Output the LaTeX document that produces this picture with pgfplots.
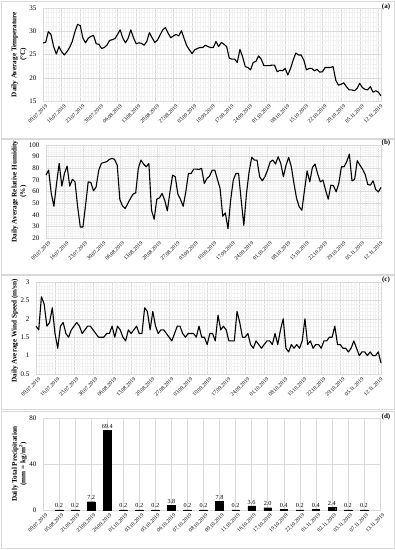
\documentclass[border=0pt]{standalone}
\usepackage{fontspec}
\setmainfont{Liberation Serif}
\usepackage{pgfplots}
\usepackage{pgfplotstable}
\pgfplotsset{compat=1.18}

\pgfplotstableread{
t
27.5
27.6
29.9
29.3
26.7
25.1
26.7
25.6
24.9
25.6
26.5
27.8
29.9
31.5
31.2
28.5
27.5
28.5
28.9
29.1
27.3
27.2
26.3
26.5
27.0
28.0
28.2
28.4
29.3
30.3
28.5
27.5
28.5
30.3
28.6
27.3
27.5
27.4
27.0
27.8
29.7
28.6
27.6
28.1
29.2
30.3
30.8
29.6
28.6
29.0
29.3
29.0
30.1
28.5
26.9
26.0
25.2
26.0
26.3
26.5
26.5
27.0
26.7
26.5
26.5
27.8
26.7
27.6
27.2
26.7
24.2
24.0
24.0
23.3
26.1
24.5
22.4
22.2
21.7
23.3
23.5
24.7
24.0
22.6
22.6
22.6
22.7
22.7
21.3
21.6
21.5
22.0
20.6
22.0
23.8
25.3
24.9
24.9
23.8
21.7
22.0
22.0
21.5
21.8
21.2
21.3
22.2
22.2
22.2
22.4
19.5
18.4
18.6
18.9
18.1
17.4
17.4
17.2
17.7
18.8
17.9
17.5
17.4
18.1
16.9
17.2
16.9
16.1
}\temptable

\pgfplotstableread{
h
74.1
78.4
58.3
47.3
66.9
84.2
64.6
75.5
81.9
64.6
70.4
68.3
46.8
29.5
29.5
48.2
68.3
67.8
60.6
64.0
78.4
84.2
85.0
85.6
87.6
88.5
87.6
82.7
53.1
47.6
45.3
49.6
54.0
57.7
58.8
79.9
87.0
83.6
81.3
84.2
43.9
36.1
53.4
54.5
58.3
52.5
43.3
59.7
74.1
72.7
57.7
53.1
47.3
59.7
75.5
75.5
79.3
79.3
79.0
79.9
66.9
71.2
73.2
78.4
78.4
70.4
62.6
38.7
41.6
28.0
52.5
69.8
75.5
75.5
52.5
30.9
58.3
77.0
89.4
87.0
87.0
72.7
69.2
72.7
78.4
85.6
87.0
83.6
89.9
84.2
72.7
82.7
89.4
81.3
66.9
54.0
46.8
43.9
61.1
77.8
68.3
80.7
83.6
75.0
68.3
69.8
61.1
53.4
65.5
64.9
59.7
66.9
81.3
81.3
85.6
92.2
69.2
70.4
86.5
82.7
79.3
74.7
66.0
65.5
69.2
61.7
59.7
63.5
}\humtable

\pgfplotstableread{
w
1.8
1.7
2.6
2.4
1.8
1.9
2.3
1.6
1.2
1.8
1.9
1.6
1.5
1.7
1.8
1.9
1.8
1.6
1.7
1.8
1.8
1.7
1.6
1.5
1.5
1.5
1.6
1.6
1.8
1.5
1.8
1.7
1.5
1.4
1.7
1.6
1.7
1.8
1.6
1.6
2.3
2.2
1.7
2.2
1.8
1.6
1.7
1.7
1.6
1.5
1.4
1.6
1.8
1.8
1.6
1.5
1.6
1.6
1.6
1.5
1.8
1.5
1.5
1.3
1.6
1.6
1.4
2.1
1.7
1.8
1.7
1.4
1.4
1.4
2.2
1.9
1.5
1.5
1.6
1.3
1.2
1.4
1.3
1.2
1.3
1.4
1.4
1.3
1.6
1.3
1.7
2.0
1.2
1.1
1.3
1.2
1.3
1.2
1.4
2.0
1.3
1.4
1.2
1.3
1.3
1.2
1.4
1.4
1.5
1.5
1.8
1.3
1.3
1.2
1.2
1.1
1.2
1.4
1.2
1.0
1.1
1.1
1.0
1.1
1.0
1.0
1.1
0.8
}\windtable

\pgfplotsset{
 panel/.style={
   scale only axis, anchor=south west,
   axis line style={draw=black!14},
   grid=both,
   major grid style={draw=black!14, line width=0.4pt},
   minor grid style={draw=black!5, line width=0.3pt},
   major tick length=0pt, minor tick length=0pt,
   tick style={draw=none},
   /pgf/number format/assume math mode=true,
   yticklabel style={font=\fontsize{7}{8}\selectfont, xshift=-3pt},
   xticklabel style={font=\fontsize{5.4}{6}\selectfont, rotate=45, anchor=north east, inner sep=0.5pt, yshift=-3pt},
   ylabel style={font=\bfseries\fontsize{7.2}{8.6}\selectfont, align=center, anchor=center, rotate=0},
   clip=false,
 },
 timeaxis/.style={
   xmin=0, xmax=127, xtick={0,7,...,126},
   xticklabels={09.07.2019,16.07.2019,23.07.2019,30.07.2019,06.08.2019,13.08.2019,20.08.2019,27.08.2019,03.09.2019,10.09.2019,17.09.2019,24.09.2019,01.10.2019,08.10.2019,15.10.2019,22.10.2019,29.10.2019,05.11.2019,12.11.2019},
   minor x tick num=6,
 },
 dline/.style={black, line width=1.1pt, line join=round, mark=none},
}

\begin{document}
\begin{tikzpicture}[x=1pt,y=1pt]
\fill[white] (0,0) rectangle (395,550);
\path[use as bounding box] (0,0) rectangle (395,550);
\draw[black!15, line width=0.5pt] (1,412) rectangle (394,549);
\draw[black!15, line width=0.5pt] (1,276) rectangle (394,411);
\draw[black!15, line width=0.5pt] (1,141) rectangle (394,275);
\draw[black!15, line width=0.5pt] (1,2) rectangle (394,139);

% (a) temperature
\begin{axis}[panel, timeaxis, at={(43pt,449pt)}, width=338pt, height=93pt,
  ymin=15, ymax=35, ytick={15,20,...,35}, minor y tick num=4,
  ylabel={Daily Average Temperature\\(°C)},
  ylabel style={at={(axis description cs:-0.071,0.5)}}]
\addplot[dline] table[x expr=\coordindex, y=t] {\temptable};
\end{axis}

% (b) humidity
\begin{axis}[panel, timeaxis, at={(46pt,312pt)}, width=335pt, height=93pt,
  ymin=20, ymax=100, ytick={20,30,...,100}, minor y tick num=4,
  ylabel={Daily Average Relative Humidity\\(\%)},
  ylabel style={at={(axis description cs:-0.080,0.5)}}]
\addplot[dline] table[x expr=\coordindex, y=h] {\humtable};
\end{axis}

% (c) wind
\begin{axis}[panel, timeaxis, at={(36pt,176pt)}, width=345pt, height=92pt,
  ymin=0.5, ymax=3, ytick={0.5,1,1.5,2,2.5,3}, minor y tick num=4,
  ylabel={Daily Average Wind Speed (m/sn)},
  ylabel style={at={(axis description cs:-0.061,0.47)}}]
\addplot[dline] table[x expr=\coordindex, y=w] {\windtable};
\end{axis}

% (d) precipitation
\begin{axis}[panel, at={(43pt,40pt)}, width=337pt, height=92pt,
  grid=major,
  ymin=0, ymax=80, ytick={0,40,80},
  xmin=0, xmax=21, xtick={0,...,21},
  xticklabels={09.07.2019,05.08.2019,21.09.2019,23.09.2019,26.09.2019,01.10.2019,03.10.2019,05.10.2019,06.10.2019,07.10.2019,08.10.2019,09.10.2019,11.10.2019,16.10.2019,17.10.2019,19.10.2019,22.10.2019,01.11.2019,02.11.2019,03.11.2019,07.11.2019,13.11.2019},
  ylabel={Daily Total Precipitation\\(mm = kg/m\textsuperscript{2})},
  ylabel style={at={(axis description cs:-0.070,0.5)}},
  ybar, bar width=7.7pt,
  nodes near coords={\pgfmathprintnumber[fixed,fixed zerofill,precision=1]{\pgfplotspointmeta}},
  nodes near coords style={font=\fontsize{6.2}{7}\selectfont, inner sep=1.5pt, black},
  ]
\addplot[fill=black, draw=black] coordinates {
(1,0.2) (2,0.2) (3,7.2) (4,69.4) (5,0.2) (6,0.2) (7,0.2) (8,3.8) (9,0.2) (10,0.2)
(11,7.8) (12,0.2) (13,3.6) (14,2.0) (15,0.4) (16,0.2) (17,0.4) (18,2.4) (19,0.2) (20,0.2)};
\end{axis}

\node[font=\bfseries\fontsize{7}{8}\selectfont] at (386,543) {(a)};
\node[font=\bfseries\fontsize{7}{8}\selectfont] at (386,407) {(b)};
\node[font=\bfseries\fontsize{7}{8}\selectfont] at (386,270) {(c)};
\node[font=\bfseries\fontsize{7}{8}\selectfont] at (386,133) {(d)};
\end{tikzpicture}
\end{document}
